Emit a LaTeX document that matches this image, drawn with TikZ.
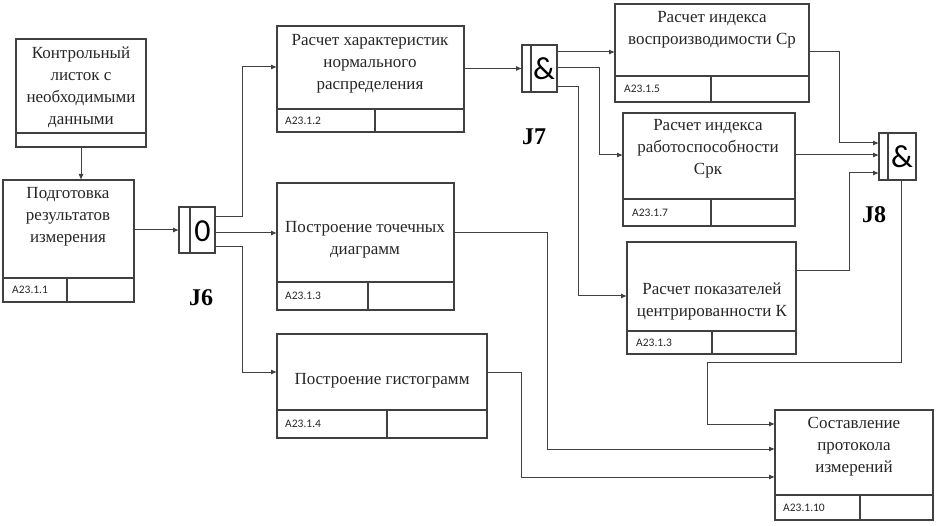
\documentclass[tikz,border=0pt]{standalone}
\usepackage{fontspec}
\setmainfont{Liberation Serif}
\newfontfamily\lblfont{Carlito}
\usetikzlibrary{arrows.meta}
\tikzset{
 box/.style={draw=black!75, line width=1.1pt, inner sep=0pt, outer sep=0pt, rectangle},
 div/.style={draw=black!75, line width=1.1pt},
 txt/.style={align=center, inner sep=0pt, font=\fontsize{17}{22}\selectfont, text=black!85},
 lbl/.style={anchor=west, inner sep=0pt, font=\lblfont\fontsize{11.5}{12}\selectfont, text=black!85},
 jlbl/.style={inner sep=0pt, font=\bfseries\fontsize{24}{26}\selectfont},
 jsym/.style={inner sep=0pt, font=\lblfont\fontsize{32}{34}\selectfont},
 arr/.style={draw=black!75, line width=1pt, -{Latex[length=6pt,width=5pt]}},
}
\begin{document}
\begin{tikzpicture}[x=1pt,y=-1pt]
\useasboundingbox (0,0) rectangle (936,526);
% boxes
\node[box, minimum width=130pt, minimum height=108pt] (kl) at (81,93) {};
\draw[div] (kl.west |- 0,133) -- (kl.east |- 0,133);
\node[txt] (klt) at (81,87) {Контрольный\\листок с\\необходимыми\\данными};

\node[box, minimum width=131pt, minimum height=122pt] (p1) at (68.5,241) {};
\draw[div] (p1.west |- 0,278) -- (p1.east |- 0,278);
\draw[div] (67,278) -- (p1.south -| 67,0);
\node[txt] (p1t) at (68,216.5) {Подготовка\\результатов\\измерения};
\node[lbl] (p1l) at (12,290) {A23.1.1};

\node[box, minimum width=187pt, minimum height=106pt] (b2) at (370.5,79) {};
\draw[div] (b2.west |- 0,109) -- (b2.east |- 0,109);
\draw[div] (375,109) -- (b2.south -| 375,0);
\node[txt] (b2t) at (370,63.5) {Расчет характеристик\\нормального\\распределения};
\node[lbl] (b2l) at (285,120.5) {A23.1.2};

\node[box, minimum width=177pt, minimum height=127pt] (b3) at (365.5,246.5) {};
\draw[div] (b3.west |- 0,282) -- (b3.east |- 0,282);
\draw[div] (368,282) -- (b3.south -| 368,0);
\node[txt] (b3t) at (365,240) {Построение точечных\\диаграмм};
\node[lbl] (b3l) at (285,296) {A23.1.3};

\node[box, minimum width=210pt, minimum height=104pt] (b4) at (382,386) {};
\draw[div] (b4.west |- 0,410) -- (b4.east |- 0,410);
\draw[div] (387,410) -- (b4.south -| 387,0);
\node[txt] (b4t) at (382,381) {Построение гистограмм};
\node[lbl] (b4l) at (285,424) {A23.1.4};

\node[box, minimum width=194pt, minimum height=98pt] (b5) at (712,53) {};
\draw[div] (b5.west |- 0,76) -- (b5.east |- 0,76);
\draw[div] (711,76) -- (b5.south -| 711,0);
\node[txt] (b5t) at (712,30) {Расчет индекса\\воспроизводимости Ср};
\node[lbl] (b5l) at (624,89) {A23.1.5};

\node[box, minimum width=172pt, minimum height=113pt] (b7) at (709,169.5) {};
\draw[div] (b7.west |- 0,199) -- (b7.east |- 0,199);
\draw[div] (711,199) -- (b7.south -| 711,0);
\node[txt] (b7t) at (708,149) {Расчет индекса\\работоспособности\\Срк};
\node[lbl] (b7l) at (632,212.5) {A23.1.7};

\node[box, minimum width=169pt, minimum height=112pt] (b8) at (711.5,298) {};
\draw[div] (b8.west |- 0,331) -- (b8.east |- 0,331);
\draw[div] (712,331) -- (b8.south -| 712,0);
\node[txt] (b8t) at (712,301) {Расчет показателей\\центрированности К};
\node[lbl] (b8l) at (636,342.5) {A23.1.3};

\node[box, minimum width=158pt, minimum height=110pt] (b10) at (854,465) {};
\draw[div] (b10.west |- 0,495) -- (b10.east |- 0,495);
\draw[div] (860,495) -- (b10.south -| 860,0);
\node[txt] (b10t) at (854,446.5) {Составление\\протокола\\измерений};
\node[lbl] (b10l) at (783,507.5) {A23.1.10};

% junctions
\node[box, minimum width=36pt, minimum height=46pt] (j6) at (197,230) {};
\draw[div] (j6.north -| 190,0) -- (j6.south -| 190,0);
\node[jsym] (j6s) at (202.5,231) {0};
\node[jlbl] (j6l) at (201,298) {J6};

\node[box, minimum width=35pt, minimum height=47pt] (j7) at (539.5,68.5) {};
\draw[div] (j7.north -| 531,0) -- (j7.south -| 531,0);
\node[jsym] (j7s) at (544,69) {\&};
\node[jlbl] (j7l) at (534,137) {J7};

\node[box, minimum width=37pt, minimum height=47pt] (j8) at (897.5,156.5) {};
\draw[div] (j8.north -| 888,0) -- (j8.south -| 888,0);
\node[jsym] (j8s) at (902,157) {\&};
\node[jlbl] (j8l) at (874,215) {J8};

% connectors
\draw[arr] (kl.south) -- (kl.south |- p1.north);
\draw[arr] (p1.east |- j6.west) -- (j6.west);
\draw[arr] (j6.east |- 0,217) -| (242,67) -- (b2.west |- 0,67);
\draw[arr] (j6.east |- 0,233) -- (b3.west |- 0,233);
\draw[arr] (j6.east |- 0,247) -| (242,372) -- (b4.west |- 0,372);
\draw[arr] (b2.east |- j7.west) -- (j7.west);
\draw[arr] (j7.east |- 0,52) -- (b5.west |- 0,52);
\draw[arr] (j7.east |- 0,68) -| (599,155) -- (b7.west |- 0,155);
\draw[arr] (j7.east |- 0,87) -| (578,296) -- (b8.west |- 0,296);
\draw[arr] (b5.east |- 0,52) -| (839,143) -- (j8.west |- 0,143);
\draw[arr] (b7.east |- 0,155) -- (j8.west |- 0,155);
\draw[arr] (b8.east |- 0,271) -| (849,173) -- (j8.west |- 0,173);
\draw[arr] (j8.south -| 901,0) -- (901,362) -| (707,424) -- (b10.west |- 0,424);
\draw[arr] (b3.east |- 0,233) -| (547,449) -- (b10.west |- 0,449);
\draw[arr] (b4.east |- 0,372) -| (521,477) -- (b10.west |- 0,477);
\end{tikzpicture}
\end{document}
